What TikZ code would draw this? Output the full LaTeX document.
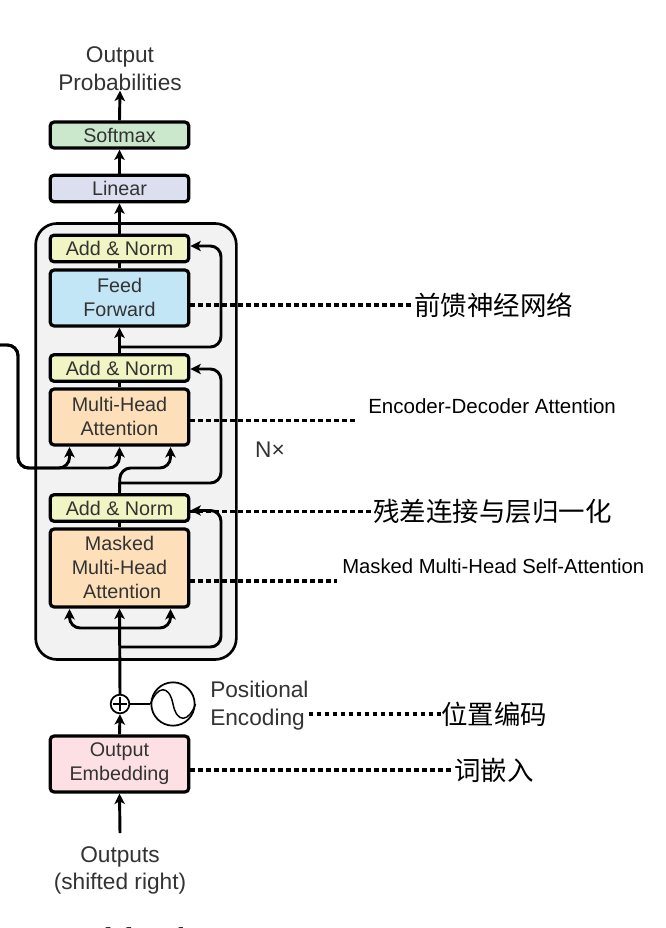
\documentclass[tikz,border=0pt]{standalone}
\usepackage{fontspec}
\setmainfont{Liberation Sans}
\newfontfamily\cjk{Noto Sans CJK SC}
\newfontfamily\capfont{Liberation Serif}
\usetikzlibrary{arrows.meta,positioning,calc}
\definecolor{boxtext}{HTML}{333333}
\tikzset{
  x=0.75pt,y=-0.75pt,
  block/.style={draw=black,line width=2.4pt,rounded corners=3pt,minimum width=104pt,align=center,inner sep=0pt,
     text=boxtext,font=\fontsize{14.8}{18}\selectfont},
  addnorm/.style={block,fill=addcol,minimum height=20pt},
  conn/.style={draw=black,line width=2.2pt,rounded corners=8pt},
  arrowed/.style={conn,-{Stealth[length=7.8pt,width=7.8pt,inset=2pt]}},
  dots/.style={draw=black,line width=2.6pt,dash pattern=on 3.3pt off 2.7pt},
  plain/.style={align=center,inner sep=0pt,text=boxtext,font=\fontsize{17}{20.8}\selectfont},
  cnlabel/.style={inner sep=0pt,text=black,font=\cjk\fontsize{19.85}{24}\selectfont},
  enlabel/.style={inner sep=0pt,text=black,font=\fontsize{15.4}{18}\selectfont},
}
\definecolor{addcol}{HTML}{F1F4C3}
\definecolor{softcol}{HTML}{CBE8CD}
\definecolor{lincol}{HTML}{DCDFF0}
\definecolor{ffcol}{HTML}{C3E6F7}
\definecolor{attcol}{HTML}{FDE0BA}
\definecolor{embcol}{HTML}{FDE0E3}
\definecolor{panel}{HTML}{F2F2F2}
\begin{document}
\begin{tikzpicture}
\useasboundingbox (0,0) rectangle (666,928);
\fill[white] (0,0) rectangle (666,928);
% panel
\node[draw=black,line width=2pt,fill=panel,rounded corners=16pt,minimum width=150.5pt,minimum height=327pt,inner sep=0pt] (panel) at (136,441.5) {};
% blocks
\node[block,fill=softcol,minimum height=19.5pt] (softmax) at (119.5,135) {Softmax};
\node[block,fill=lincol,minimum height=20pt] (linear) at (119.5,188.5) {Linear};
\node[addnorm] (an1) at (119.5,248.5) {Add \& Norm};
\node[block,fill=ffcol,minimum height=42pt] (ff) at (119.5,298) {\raisebox{1pt}{Feed}\\\raisebox{1pt}{Forward}};
\node[addnorm] (an2) at (119.5,368) {Add \& Norm};
\node[block,fill=attcol,minimum height=42pt] (mha) at (119.5,417) {\raisebox{1pt}{Multi-Head}\\\raisebox{1pt}{Attention}};
\node[addnorm] (an3) at (119.5,508) {Add \& Norm};
\node[block,fill=attcol,minimum height=58.5pt] (mmha) at (119.5,568) {\raisebox{1pt}{Masked}\\\raisebox{1pt}{Multi-Head}\\\hspace*{4pt}\raisebox{1pt}{Attention}};
\node[block,fill=embcol,minimum height=42pt] (emb) at (119.5,764) {\raisebox{-1.4pt}{Output}\\\raisebox{-1.4pt}{Embedding}};
% plain text
\node[plain] (outprob) at (120,68.5) {Output\\Probabilities};
\node[plain] (outputs) at (120,870.5) {Outputs\\(shifted right)};
\node[plain,align=left,anchor=west] (pos) at (210,705.5) {Positional\\Encoding};
\node[plain,anchor=center] (nx) at (270,450) {N×};
% plus and wave
\node[draw=black,line width=1.3pt,circle,minimum size=14pt,inner sep=0pt,fill=white] (plus) at (120,704) {};
\draw[line width=1.1pt] ($(plus.north)+(0,3)$) -- ($(plus.south)+(0,-3)$);
\draw[line width=1.1pt] ($(plus.west)+(3,0)$) -- ($(plus.east)+(-3,0)$);
\node[draw=black,line width=1.3pt,circle,minimum size=32.5pt,inner sep=0pt,fill=white] (wave) at (173,704) {};
\draw[line width=1.1pt] (wave.west) .. controls (157,686) and (169,684) .. (173,704) .. controls (177,724) and (189,722) .. (wave.east);
% vertical flow
\draw[conn] (plus.east) -- (wave.west);
\draw[arrowed] (outputs.north |- 0,833) coordinate (inlet) -- (emb.south);
\draw[arrowed] (emb.north) -- (plus.south);
\draw[arrowed] (plus.north) -- (mmha.south);
\draw[conn] (mmha.north) -- (an3.south);
\draw[conn] (mha.north) -- (an2.south);
\draw[arrowed] (an2.north) -- (ff.south);
\draw[conn] (ff.north) -- (an1.south);
\draw[arrowed] (an1.north) -- (linear.south);
\draw[arrowed] (linear.north) -- (softmax.south);
\draw[arrowed] (softmax.north) -- (outprob.south);
% residuals
\coordinate (r1) at (120,647);
\coordinate (r2) at (120,483);
\coordinate (r3) at (120,347);
\draw[arrowed] (r1) -- (221,647) -- (221,510.5) -- (an3.east |- 0,510.5);
\draw[arrowed] (r2) -- (221,483) -- (221,369) -- (an2.east |- 0,369);
\draw[arrowed] (r3) -- (221,347) -- (221,246) -- (an1.east |- 0,246);
% masked branches
\coordinate (m0) at (120,628);
\draw[arrowed] (m0) -- (69.5,628) -- (69.5,609);
\draw[arrowed] (m0) -- (170.5,628) -- (170.5,609);
% decoder cross-attention inputs
\coordinate (enc) at (0,345);
\draw[arrowed] (enc) -- (18,345) -- (18,468) -- (69.5,468) -- (69.5,447);
\draw[arrowed] (enc) -- (18,345) -- (18,468) -- (119.5,468) -- (119.5,447);
\draw[arrowed] (an3.north) -- (120,468) -- (170.5,468) -- (170.5,447);
% dotted links and labels
\node[cnlabel,anchor=west] (l1) at (414,305) {前馈神经网络};
\node[enlabel,anchor=west] (l2) at (368,406) {Encoder-Decoder Attention};
\node[cnlabel,anchor=west] (l3) at (373,511.5) {残差连接与层归一化};
\node[enlabel,anchor=west] (l4) at (342,566) {\fontsize{15.2}{18}\selectfont Masked Multi-Head Self-Attention};
\node[cnlabel,anchor=west] (l5) at (441,714) {位置编码};
\node[cnlabel,anchor=west] (l6) at (454,770) {词嵌入};
\coordinate (e2) at (358,420.5);
\coordinate (e4) at (337,581);
\draw[dots] (ff.east |- l1.west) -- (l1.west);
\draw[dots] (mha.east |- e2) -- (e2);
\draw[dots] (an3.east |- l3.west) -- (l3.west);
\draw[dots] (mmha.east |- e4) -- (e4);
\draw[dots] (pos.east |- l5.west) -- (l5.west);
\draw[dots] (emb.east |- l6.west) -- (l6.west);
% cropped caption
\begin{scope}
\clip (0,0) rectangle (666,928);
\node[anchor=base west,inner sep=0pt,text=black,font=\capfont\fontsize{22.5}{24}\selectfont] (cap) at (59,948.5) {model architecture};
\end{scope}
\end{tikzpicture}
\end{document}
